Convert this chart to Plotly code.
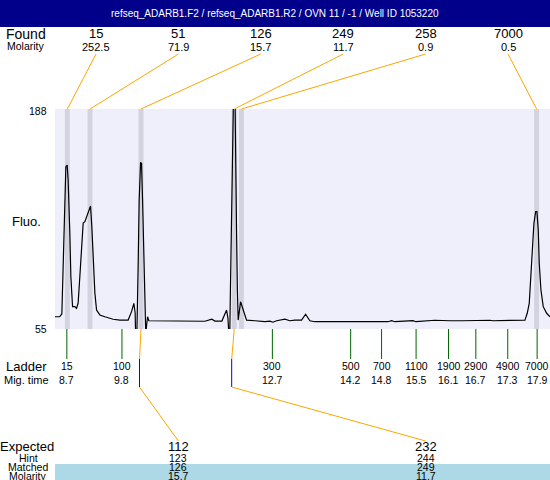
import plotly.graph_objects as go

W, H = 550, 480
FONT = 'Liberation Sans, Arial, sans-serif'

title_text = 'refseq_ADARB1.F2 / refseq_ADARB1.R2 / OVN 11 / -1 / Well ID 1053220'

# electropherogram: migration time (min) vs fluorescence
trace_time = [8.50, 8.59, 8.633, 8.658, 8.691, 8.711, 8.736, 8.755, 8.788, 8.808, 8.841, 8.885,
              8.918, 8.949, 8.982, 9.015, 9.047, 9.080, 9.113, 9.163, 9.190, 9.215, 9.241, 9.274,
              9.307, 9.371, 9.468, 9.532, 9.565, 9.629, 9.759, 9.920, 9.986, 10.031, 10.056, 10.070,
              10.085, 10.114, 10.134, 10.161, 10.180, 10.200, 10.225, 10.245, 10.262, 10.275, 10.297,
              10.322, 10.342, 10.924, 11.118, 11.410, 11.546, 11.604, 11.740, 11.831, 11.857, 11.866,
              11.890, 11.905, 11.929, 11.955, 11.975, 11.995, 12.006, 12.025, 12.041, 12.056, 12.103,
              12.134, 12.173, 12.219, 12.381, 12.575, 12.672, 12.730, 12.802, 12.866, 12.963, 13.060,
              13.157, 13.287, 13.365, 13.448, 13.546, 14.963, 15.035, 15.099, 15.449, 15.507, 15.682,
              15.876, 16.167, 16.361, 16.419, 16.944, 17.001, 17.623, 17.668, 17.707, 17.734, 17.765,
              17.798, 17.831, 17.856, 17.882, 17.901, 17.934, 17.979, 18.045, 18.11]
trace_fluo = [62.4, 62.4, 64.1, 94.9, 135.0, 153.1, 154.1, 145.1, 113.0, 86.6, 68.5, 68.5,
              67.5, 70.7, 86.6, 102.8, 119.1, 119.9, 122.9, 126.9, 129.4, 116.8, 98.7, 76.8,
              66.5, 63.5, 62.4, 62.1, 61.5, 60.9, 60.4, 60.4, 65.5, 70.5, 64.7, 45,
              45, 92.7, 133.0, 155.4, 155.2, 133.0, 92.7, 64.7, 52, 56.2, 62.4,
              60.0, 60.0, 59.8, 60.1, 59.7, 60.9, 59.8, 59.8, 66.5, 61.6, 45,
              45, 77.5, 133.0, 200, 215, 195, 153.1, 113.0, 78.6, 60.4, 71.5,
              68.5, 64.5, 60.4, 60.0, 59.4, 59.7, 59.1, 60.0, 60.4, 60.9, 60.0,
              60.4, 60.4, 63.9, 60.0, 59.4, 59.4, 60.0, 59.4, 60.0, 59.4, 59.8,
              60.3, 60.0, 60.3, 60.0, 60.3, 60.0, 60.4, 64.5, 70.5, 84.6, 104.8,
              118.9, 125.9, 125.9, 114.8, 94.7, 78.6, 68.5, 64.5, 62.4]

found_size = [15, 51, 126, 249, 258, 7000]
found_molarity = [252.5, 71.9, 15.7, 11.7, 0.9, 0.5]
found_time = [8.74, 9.18, 10.17, 11.98, 12.12, 17.85]

ladder_size = [15, 100, 300, 500, 700, 1100, 1900, 2900, 4900, 7000]
ladder_time = [8.73, 9.80, 12.72, 14.24, 14.84, 15.51, 16.14, 16.67, 17.29, 17.86]

expected_size = [112, 232]
expected_hint = [123, 244]
expected_time = [10.14, 11.93]
matched_size = [126, 249]
matched_molarity = [15.7, 11.7]
matched_time = [10.17, 11.98]
expected_col = [1, 4]

X0, X1 = 8.50, 18.11
Y0, Y1 = 55, 188
PLOT_L, PLOT_T, PLOT_B = 55, 109, 329


def px(x):
    return x / W


def py(y):
    return 1 - y / H


def t2p(t):
    # time -> paper x via the axis range
    return px(PLOT_L) + (1 - px(PLOT_L)) * (t - X0) / (X1 - X0)


col_x = [96 + 82.4 * i for i in range(len(found_size))]

fig = go.Figure()
fig.add_trace(go.Scatter(x=trace_time, y=trace_fluo, mode='lines',
                         line=dict(color='black', width=1.2), hoverinfo='skip'))

shapes = []
annotations = []


def text(x, y, s, size=11, color='black', xanchor='center'):
    annotations.append(dict(x=x, y=y, xref='paper', yref='paper', text=s, showarrow=False,
                            xanchor=xanchor, yanchor='middle',
                            font=dict(family=FONT, size=size, color=color)))


# title bar
shapes.append(dict(type='rect', xref='paper', yref='paper', x0=0, x1=1, y0=py(27), y1=1,
                   fillcolor='#00008B', line=dict(width=0), layer='below'))
text(0.5, py(13), title_text, size=10, color='white')

# peak bands
for t in found_time:
    shapes.append(dict(type='rect', xref='x', yref='y domain', x0=t - 0.048, x1=t + 0.048,
                       y0=0, y1=1, fillcolor='#D3D3E0', line=dict(width=0), layer='below'))

# found row
text(px(26), py(34), 'Found', size=14)
text(px(26), py(46), 'Molarity', size=10.5)
for i, (s, m, t) in enumerate(zip(found_size, found_molarity, found_time)):
    text(px(col_x[i]), py(34), str(s), size=13)
    text(px(col_x[i]), py(47), str(m), size=11)
    shapes.append(dict(type='line', xref='paper', yref='paper', x0=px(col_x[i]), y0=py(54),
                       x1=t2p(t), y1=py(PLOT_T), line=dict(color='orange', width=1)))

# axis labels
text(px(49), py(111), '188', size=10.5, xanchor='right')
text(px(49), py(329), '55', size=10.5, xanchor='right')
text(px(26), py(221), 'Fluo.', size=13)

# ladder
text(px(26), py(366), 'Ladder', size=13)
text(px(26), py(380), 'Mig. time', size=11)
for s, t in zip(ladder_size, ladder_time):
    shapes.append(dict(type='line', xref='x', yref='paper', x0=t, x1=t, y0=py(PLOT_B), y1=py(359),
                       line=dict(color='#006400', width=1)))
    text(t2p(t), py(366), str(s), size=10.5)
    text(t2p(t), py(380), '%.1f' % t, size=10.5)

# expected / matched
shapes.append(dict(type='rect', xref='paper', yref='paper', x0=px(PLOT_L), x1=1, y0=0, y1=py(464),
                   fillcolor='lightblue', line=dict(width=0), layer='below'))
text(px(27), py(446), 'Expected', size=13)
text(px(28), py(458), 'Hint', size=10.5)
text(px(28), py(467), 'Matched', size=10.5)
text(px(28), py(475.5), 'Molarity', size=10.5)
for e, h, et, ms, mm, mt, c in zip(expected_size, expected_hint, expected_time,
                                   matched_size, matched_molarity, matched_time, expected_col):
    cx = px(col_x[c])
    text(cx, py(446), str(e), size=13)
    text(cx, py(458), str(h), size=10.5)
    text(cx, py(467), str(ms), size=10.5)
    text(cx, py(475.5), str(mm), size=10.5)
    shapes.append(dict(type='line', xref='paper', yref='paper', x0=t2p(mt), y0=py(PLOT_B),
                       x1=t2p(et), y1=py(359), line=dict(color='orange', width=1)))
    shapes.append(dict(type='line', xref='paper', yref='paper', x0=t2p(et), y0=py(359),
                       x1=t2p(et), y1=py(387), line=dict(color='blue', width=1)))
    shapes.append(dict(type='line', xref='paper', yref='paper', x0=t2p(et), y0=py(387),
                       x1=cx, y1=py(441), line=dict(color='orange', width=1)))

fig.update_layout(
    width=W, height=H,
    margin=dict(l=0, r=0, t=0, b=0, pad=0),
    paper_bgcolor='white',
    plot_bgcolor='#EFEFFC',
    showlegend=False,
    shapes=shapes,
    annotations=annotations,
    xaxis=dict(domain=[px(PLOT_L), 1], range=[X0, X1], showgrid=False, zeroline=False,
               showticklabels=False, ticks='', fixedrange=True),
    yaxis=dict(domain=[py(PLOT_B), py(PLOT_T)], range=[Y0, Y1], showgrid=False, zeroline=False,
               showticklabels=False, ticks='', fixedrange=True),
)

# the page body has a default 8px margin; drop it so the figure sits at the corner
fig.write_html('out.html', config={'displayModeBar': False},
               post_script="document.body.style.margin='0';document.body.style.overflow='hidden';")
